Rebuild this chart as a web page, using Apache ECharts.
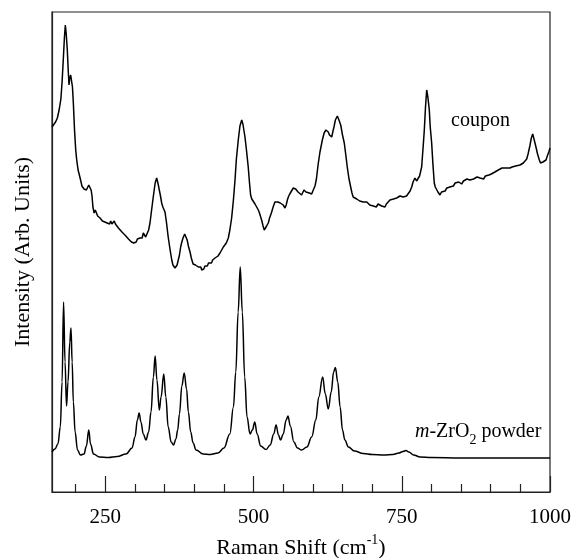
<!DOCTYPE html>
<html>
<head>
<meta charset="utf-8">
<script src="https://cdn.jsdelivr.net/npm/echarts@6/dist/echarts.min.js"></script>
<style>html,body{margin:0;padding:0;background:#fff;}#c{width:573px;height:558px;}</style>
</head>
<body>
<div id="c"></div>
<script>
// Raman shift (cm-1), intensity (arbitrary units)
const couponSpectrum = [
[160,365],[163,367],[166,370],[169,374],[172,382],[175,393],[177,410],[179,432],[181,455],[182.5,467],[184,458],[185.8,442],[187.5,420],[188.7,407],[190,414],[191.5,417],[193,416],[194.5,405],[196,389],[198,362],[200,342],[201.7,332],[204,322],[207,315],[209,310],[210.5,306],[212,308],[214,303],[216,305],[218,302],[220,304],[222,307],[224,308],[226,302],[227.5,296],[229,285],[231,279],[233,282],[235,280],[237,276],[239,277],[241,274],[243,275],[245,271],[247,273],[249,270],[251,272],[253,269],[255,270],[257,268],[259,271],[261,268],[263,270],[265,271],[267,268],[269,266],[272,264],[275,262],[278,260],[280,259],[283,257],[286,255],[289,253],[291.5,252],[294,250],[296,252],[298,249],[300,251],[302,250],[304,253],[306,251],[308.5,254],[310,255],[312,254],[314,259],[316,257],[318,255],[320.7,256],[323,262],[325.3,269],[328,282],[331,296],[334,309],[336.6,314],[339,308],[341,302],[343,296],[345,289],[347,285],[349,283],[350.6,280],[353,270],[356,255],[359,243],[362,232],[364,227],[366,226],[367.5,224],[369,225],[371,227],[373,229],[375,237],[377,245],[379,250],[381,254],[383.8,258],[386,256],[388,252],[390,246],[392.8,240],[395,234],[398,228],[400,230],[402,227],[404,226],[406.8,225],[409,223],[411,225],[412.5,222],[414,224],[416,223],[418,226],[420,228],[422,226],[424,229],[426.5,230],[429,229],[431,232],[433,231],[435,234],[437,233],[440,236],[443.4,239],[446,241],[449,245],[451,247],[454,249],[457.4,254],[460,262],[463,274],[466,292],[468.7,312],[471,333],[474.2,352],[477,366],[480,372],[482,368],[485.5,355],[488,342],[491,325],[493,310],[495,297],[497,293],[499,291],[502.4,288],[505,286],[508,282],[510,279],[512,275],[514,271],[516,266],[518,262],[520,264],[522,266],[524.8,269],[527,274],[530,279],[533,285],[536,290],[539,292],[541,290],[543,292],[545,289],[547.4,289],[550,287],[553,284],[555,287],[557,292],[558.6,295],[561,298],[564,301],[567,304],[569,302],[571,303],[572.7,302],[575,300],[578,299],[581,297],[583,299],[585,302],[588.4,300],[591,298],[594,299],[596,297],[598,298],[600,301],[603.6,306],[606,313],[609,328],[612,340],[616,352],[619,359],[622,362],[624,360],[626,360],[628,357],[631.8,355],[634,361],[635.6,365],[638,372],[641.3,376],[644,372],[647,367],[650,357],[653,349],[656,335],[658,325],[661,313],[663.8,305],[666,299],[668,295],[671,296],[674,293],[676.6,294],[679,291],[682,292],[685,290],[688,289],[691,290],[693.5,288],[696,287],[699,289],[702,286],[704.8,287],[707,285],[710,288],[713.2,288],[716,286],[719,287],[721.6,285],[724,288],[727,290],[730,292],[733,291],[736,293],[739,292],[741.4,294],[744,293],[747,296],[750,294],[752.5,295],[755,297],[758,296],[761,297],[764,301],[766.7,305],[769,310],[772.2,314],[775,311],[777.8,310],[780,316],[783.5,325],[786,345],[788,362],[790,385],[792,402],[794,395],[796.4,382],[798,365],[800.4,349],[802.5,328],[804.8,309],[806.5,305],[808.8,304],[811,300],[814.4,297],[817,300],[820,302],[823,301],[826,304],[828.4,304],[831,305],[834,307],[837,306],[840,309],[843,307],[846,310],[848,310],[851,308],[854,311],[857,310],[860,313],[862,311],[865,312],[868,310],[871,313],[874,312],[877,315],[880,313],[882,314],[885,316],[888,313],[891,316],[894,314],[897,317],[898.7,315],[901,318],[904,317],[907,320],[910,321],[912.8,322],[916,321],[919,324],[922,322],[925,324],[928,322],[932.5,324],[936,325],[939,323],[942,326],[945,325],[949.4,327],[952,328],[955,329],[958,330],[960.7,333],[963,338],[966,346],[968.5,354],[970.8,358],[973,353],[976.3,345],[979,338],[982,332],[984,329],[986,328.7],[988,330],[990,331],[993.3,332],[996,337],[998,340],[1000,344]
];
const powderSpectrum = [
[160,40],[165,43],[170,48],[174,65],[177,110],[179.5,190],[182,130],[184.5,86],[187,110],[190,150],[192,164],[194,130],[196,90],[199,60],[203,42],[208,37],[214,38],[218,46],[222,62],[225,48],[230,38],[240,35],[255,34.5],[270,35.5],[285,38],[295,44],[300,55],[304,72],[307,79],[310,70],[314,58],[318.5,52],[323,60],[327,80],[331,115],[334,136],[337,112],[341,82],[344,95],[348.5,118],[352,95],[356,65],[361,50],[365,47],[369,53],[372,62],[375,78],[379,106],[383,119],[387,103],[390,80],[394,60],[398,49],[403,42],[415,38],[427,37.5],[440,39],[450,44],[460,58],[466,85],[470,120],[474,180],[477.5,225],[481,180],[485,115],[489,75],[494,58],[498,62],[502,70],[506,58],[512,46],[521,42.5],[528,47],[534,58],[538,67],[542,57],[545.5,52],[550,58],[555,72],[558,76],[562,66],[568,50],[574,44],[581,42],[590,45],[598,55],[605,72],[610,95],[616.5,115],[621,98],[626,83],[631,100],[635,120],[638,124.5],[642,110],[646,85],[650,62],[654,52],[660,45],[670,41],[685,38.5],[700,37.5],[720,37],[735,37.5],[745,39],[752,40.5],[757,41.5],[762,40],[770,37],[781,35],[800,34.5],[850,34],[900,34],[950,34],[1000,34]
];
const majorTicks = [250, 500, 750, 1000];
const minorTicks = [200, 300, 350, 400, 450, 550, 600, 650, 700, 800, 850, 900, 950];
const xRange = [160, 1000];
const yRange = [0, 480];

const FONT = '"Liberation Serif", "Times New Roman", serif';
const mctx = document.createElement('canvas').getContext('2d');
function tw(text, font) { mctx.font = font; return mctx.measureText(text).width; }
const fItal = 'italic 20px ' + FONT;
const fMain = '20px ' + FONT;
const fSub = '14px ' + FONT;
const lx0 = 415;
const lx1 = lx0 + tw('m', fItal);
const lx2 = lx1 + tw('-ZrO', fMain);
const lx3 = lx2 + tw('2', fSub);

const chart = echarts.init(document.getElementById('c'), null, {renderer: 'canvas'});
chart.setOption({
  animation: false,
  backgroundColor: '#fff',
  grid: {left: 52, right: 23, top: 12, bottom: 66, containLabel: false, outerBoundsMode: 'none',
    show: true, borderColor: '#222', borderWidth: 1.2, backgroundColor: 'transparent'},
  xAxis: [{
    type: 'value', min: xRange[0], max: xRange[1], position: 'bottom',
    axisLine: {show: true, lineStyle: {color: '#222', width: 1.2}},
    axisTick: {show: true, inside: true, length: 16, customValues: majorTicks, lineStyle: {color: '#222', width: 1.2}},
    axisLabel: {show: true, customValues: majorTicks, margin: 15, color: '#000', fontFamily: FONT, fontSize: 21,
      formatter: function (v) { return String(v); }},
    splitLine: {show: false},
    name: 'Raman Shift (cm{sup|-1})',
    nameLocation: 'middle', nameGap: 45,
    nameTextStyle: {color: '#000', fontFamily: FONT, fontSize: 22, lineHeight: 30, verticalAlign: 'bottom',
      rich: {sup: {fontFamily: FONT, fontSize: 14, lineHeight: 12, verticalAlign: 'top', color: '#000'}}}
  }, {
    type: 'value', min: xRange[0], max: xRange[1], position: 'bottom',
    axisLine: {show: false},
    axisTick: {show: true, inside: true, length: 8, customValues: minorTicks, lineStyle: {color: '#222', width: 1.2}},
    axisLabel: {show: false},
    splitLine: {show: false}
  }],
  yAxis: {
    type: 'value', min: yRange[0], max: yRange[1],
    axisLine: {show: true, lineStyle: {color: '#222', width: 1.2}},
    axisTick: {show: false}, axisLabel: {show: false}, splitLine: {show: false},
    name: 'Intensity (Arb. Units)', nameLocation: 'middle', nameGap: 18,
    nameTextStyle: {color: '#000', fontFamily: FONT, fontSize: 22}
  },
  series: [{
    name: 'coupon', type: 'line', xAxisIndex: 0, data: couponSpectrum, showSymbol: false,
    lineStyle: {color: '#000', width: 1.5}, silent: true
  }, {
    name: 'powder', type: 'line', xAxisIndex: 0, data: powderSpectrum, showSymbol: false,
    smooth: 0.4, smoothMonotone: 'x',
    lineStyle: {color: '#000', width: 1.5}, silent: true
  }],
  graphic: [
    {type: 'text', left: 451, top: 111, style: {text: 'coupon', font: fMain, fill: '#000'}},
    {type: 'text', left: lx0, top: 422, style: {text: 'm', font: fItal, fill: '#000'}},
    {type: 'text', left: lx1, top: 422, style: {text: '-ZrO', font: fMain, fill: '#000'}},
    {type: 'text', left: lx2, top: 433, style: {text: '2', font: fSub, fill: '#000'}},
    {type: 'text', left: lx3, top: 422, style: {text: ' powder', font: fMain, fill: '#000'}}
  ]
});
</script>
</body>
</html>
